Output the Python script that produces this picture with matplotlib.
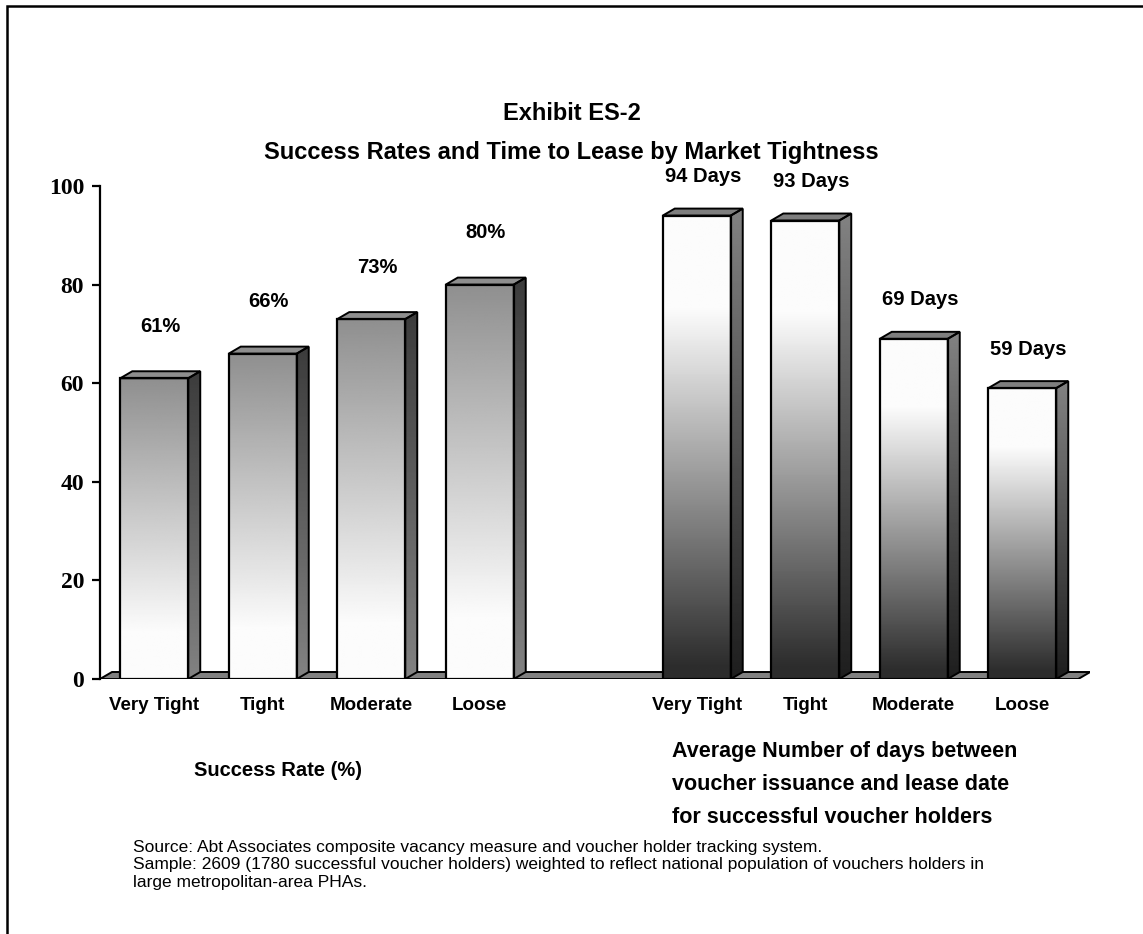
#!/usr/bin/env python
# Exhibit ES-2: success rates and time to lease, drawn as pseudo-3D gradient bars

import numpy as np
import matplotlib
matplotlib.use('Agg')
import matplotlib.pyplot as plt
from matplotlib.patches import Polygon, Rectangle

categories = ['Very Tight', 'Tight', 'Moderate', 'Loose']
success_rate = [61, 66, 73, 80]
days_to_lease = [94, 93, 69, 59]
rate_labels = ['61%', '66%', '73%', '80%']
days_labels = ['94 Days', '93 Days', '69 Days', '59 Days']
yticks = [0, 20, 40, 60, 80, 100]

title_lines = ['Exhibit ES-2', 'Success Rates and Time to Lease by Market Tightness']
left_caption = 'Success Rate (%)'
right_caption = ('Average Number of days between\n'
                 'voucher issuance and lease date\n'
                 'for successful voucher holders')
source_note = ('Source: Abt Associates composite vacancy measure and voucher holder tracking system.\n'
               'Sample: 2609 (1780 successful voucher holders) weighted to reflect national population of vouchers holders in\n'
               'large metropolitan-area PHAs.')

W, H = 1143, 934
SANS = ['Liberation Sans', 'DejaVu Sans']
SERIF = ['Liberation Serif', 'DejaVu Serif']

fig = plt.figure(figsize=(W / 100, H / 100), dpi=100)
fig.patch.set_facecolor('white')

# axes: 1 x-unit = 108.5 px, 1 y-unit = 4.93 px
ax = fig.add_axes([100 / W, 255 / H, 990 / W, 493 / H])
XMIN, XMAX = -0.5, -0.5 + 990 / 108.5
BAR_W = 68 / 108.5
DX = 12 / 108.5   # depth offset, data units
DY = 7 / 4.93


def front_left(t):
    # grey at the top fading to white near the base
    return np.clip(252 - 128 * (t - 0.15), 140, 252)


def front_right(t):
    # white at the top fading to dark grey at the base
    return np.clip(51 + 268 * (t - 0.05), 45, 252)


def side_left(t):
    return 130 - 70 * t


def side_right(t):
    return 30 + 100 * t


def draw_bar(x, h, front_fn, side_fn, top_color):
    x0, x1 = x - BAR_W / 2, x + BAR_W / 2
    t = np.linspace(1, 0, 256)[:, None]

    # front face
    ax.imshow(front_fn(t), cmap='gray', vmin=0, vmax=255, extent=[x0, x1, 0, h],
              aspect='auto', interpolation='bilinear', zorder=3)
    ax.add_patch(Rectangle((x0, 0), BAR_W, h, fill=False, ec='black', lw=1.6, zorder=5))

    # side face
    side = Polygon([(x1, 0), (x1 + DX, DY), (x1 + DX, h + DY), (x1, h)], closed=True,
                   fill=False, ec='black', lw=1.4, zorder=5)
    ax.add_patch(side)
    im = ax.imshow(side_fn(t), cmap='gray', vmin=0, vmax=255, extent=[x1, x1 + DX, 0, h + DY],
                   aspect='auto', interpolation='bilinear', zorder=3)
    im.set_clip_path(side)

    # top face
    ax.add_patch(Polygon([(x0, h), (x1, h), (x1 + DX, h + DY), (x0 + DX, h + DY)], closed=True,
                         fc=top_color, ec='black', lw=1.4, zorder=4))


# floor
floor_r = (1078 - 154) / 108.5
ax.add_patch(Polygon([(XMIN, 0), (floor_r, 0), (floor_r + DX, DY), (XMIN + DX, DY)], closed=True,
                     fc='#808080', ec='black', lw=1.4, zorder=2))

left_pos = [0, 1, 2, 3]
right_pos = [5, 6, 7, 8]

for x, v, lab in zip(left_pos, success_rate, rate_labels):
    draw_bar(x, v, front_left, side_left, '#8e8e8e')
    ax.annotate(lab, (x + DX / 2, v), xytext=(0, 52), textcoords='offset pixels',
                ha='center', va='center', fontsize=14.5, fontweight='bold', family=SANS,
                annotation_clip=False)

for x, v, lab in zip(right_pos, days_to_lease, days_labels):
    draw_bar(x, v, front_right, side_right, '#7e7e7e')
    ax.annotate(lab, (x + DX / 2, v), xytext=(0, 39), textcoords='offset pixels',
                ha='center', va='center', fontsize=14.5, fontweight='bold', family=SANS,
                annotation_clip=False)

ax.set_xlim(XMIN, XMAX)
ax.set_ylim(0, 100)

for s in ['top', 'right', 'bottom']:
    ax.spines[s].set_visible(False)
ax.spines['left'].set_linewidth(1.6)
ax.spines['left'].set_zorder(6)

ax.set_yticks(yticks)
ax.set_yticklabels([str(v) for v in yticks], fontsize=17, fontweight='bold', family=SERIF)
ax.tick_params(axis='y', direction='out', length=5.5, width=1.6, pad=6)

ax.set_xticks(left_pos + right_pos)
ax.set_xticklabels(categories + categories, fontsize=13.5, fontweight='bold', family=SANS)
ax.tick_params(axis='x', length=0, pad=13)

# titles and captions
fig.text(0.5, 1 - 113 / H, title_lines[0], ha='center', va='center',
         fontsize=17, fontweight='bold', family=SANS)
fig.text(0.5, 1 - 152 / H, title_lines[1], ha='center', va='center',
         fontsize=17, fontweight='bold', family=SANS)

fig.text(278 / W, 1 - 770 / H, left_caption, ha='center', va='center',
         fontsize=14.5, fontweight='bold', family=SANS)
fig.text(672 / W, 1 - 741 / H, right_caption, ha='left', va='top',
         fontsize=15.5, fontweight='bold', family=SANS, linespacing=1.75)

fig.text(133 / W, 1 - 840 / H, source_note, ha='left', va='top',
         fontsize=12.5, family=SANS, linespacing=1.2)

# frame around the exhibit (runs off the right and bottom edges)
fig.add_artist(Rectangle((7 / W, -0.1), 2, 1.1 - 6 / H, transform=fig.transFigure,
                         fill=False, ec='black', lw=1.8))

fig.savefig('out.png', dpi=100, facecolor='white')
